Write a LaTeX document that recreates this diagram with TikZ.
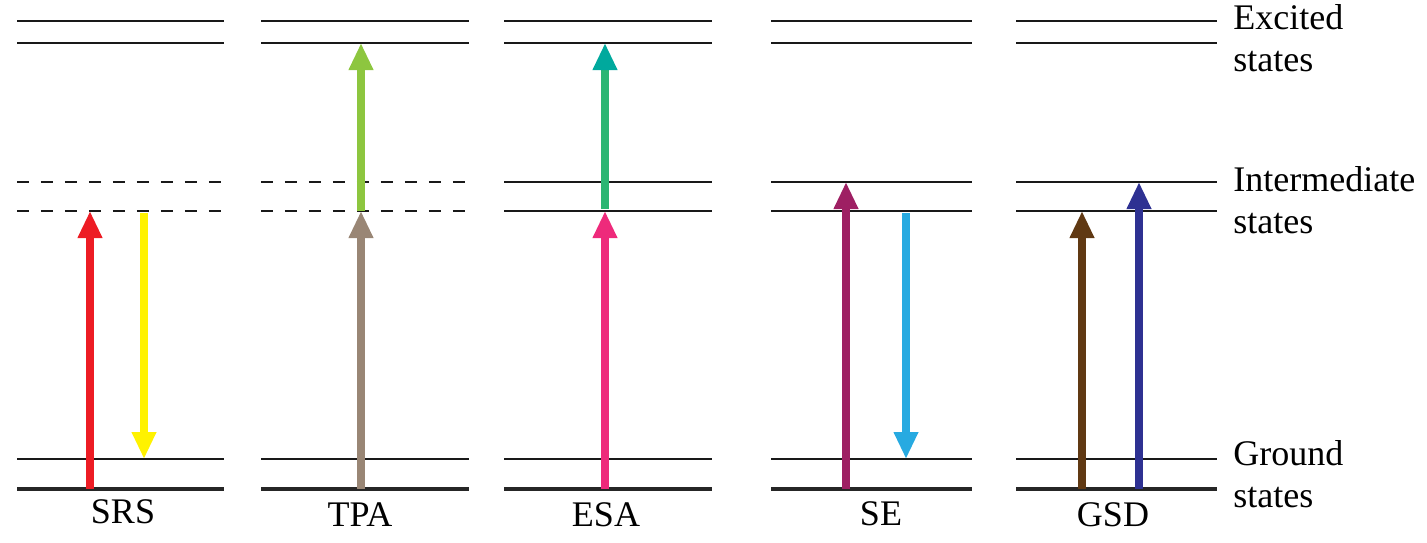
\documentclass[tikz,border=0pt]{standalone}
\usepackage{fontspec}
\setmainfont{Liberation Serif}
\usetikzlibrary{arrows.meta}
\definecolor{srsred}{HTML}{ED1C24}
\definecolor{srsyellow}{HTML}{FFF200}
\definecolor{tpagrey}{HTML}{998675}
\definecolor{tpagreen}{HTML}{8DC63F}
\definecolor{esapink}{HTML}{EE2A7B}
\definecolor{esagreen}{HTML}{2BB673}
\definecolor{esateal}{HTML}{00A99D}
\definecolor{sepurple}{HTML}{9E1F63}
\definecolor{seblue}{HTML}{27AAE1}
\definecolor{gsdbrown}{HTML}{603913}
\definecolor{gsdblue}{HTML}{2E3192}
\tikzset{
  level/.style={line width=0.8pt,black!90},
  groundlevel/.style={line width=2pt,black!85},
  virtual/.style={level,dash pattern=on 0.24cm off 0.24cm},
  transition/.style={line width=4pt,-{Triangle[width=0.46cm,length=0.54cm]}},
  statelabel/.style={anchor=west,inner sep=0,align=left,font=\fontsize{20.5}{23.8}\selectfont},
  procname/.style={anchor=base,inner sep=0,font=\fontsize{20.5}{24}\selectfont},
}

\begin{document}
\begin{tikzpicture}[x=0.02cm,y=-0.02cm]
  \useasboundingbox (0,0) rectangle (1427,542);
  \def\ya{21}   % upper excited level
  \def\yb{43}   % lower excited level
  \def\yc{182}  % upper intermediate level
  \def\yd{211}  % lower intermediate level
  \def\ye{459}  % upper ground level
  \def\yf{489}  % lower ground level

  % LEVELS
  \foreach \xl/\xr/\mid in {17/224/virtual, 261/469/virtual, 504/712/level,
                           771/972/level, 1016/1217/level}{
    \draw[level] (\xl,\ya) -- (\xr,\ya);
    \draw[level] (\xl,\yb) -- (\xr,\yb);
    \draw[\mid] (\xl,\yc) -- (\xr,\yc);
    \draw[\mid] (\xl,\yd) -- (\xr,\yd);
    \draw[level] (\xl,\ye) -- (\xr,\ye);
    \draw[groundlevel] (\xl,\yf) -- (\xr,\yf);
  }

  % POINTS
  \coordinate (SRSa) at (90,\yf);
  \coordinate (SRSb) at (90,\yd);
  \coordinate (SRSc) at (144,213);
  \coordinate (SRSd) at (144,\ye);
  \coordinate (TPAa) at (361,\yf);
  \coordinate (TPAb) at (361,\yd);
  \coordinate (TPAc) at (361,\yb);
  \coordinate (ESAa) at (605,\yf);
  \coordinate (ESAb) at (605,\yd);
  \coordinate (ESAc) at (605,209);
  \coordinate (ESAd) at (605,\yb);
  \coordinate (SEa) at (846,\yf);
  \coordinate (SEb) at (846,\yc);
  \coordinate (SEc) at (906,213);
  \coordinate (SEd) at (906,\ye);
  \coordinate (GSDa) at (1082,\yf);
  \coordinate (GSDb) at (1082,\yd);
  \coordinate (GSDc) at (1139,\yf);
  \coordinate (GSDd) at (1139,\yc);

  % TRANSITIONS
  \draw[transition,srsred] (SRSa) -- (SRSb);
  \draw[transition,srsyellow] (SRSc) -- (SRSd);
  \draw[transition,tpagrey] (TPAa) -- (TPAb);
  \draw[transition,tpagreen] (TPAb) -- (TPAc);
  \draw[transition,esapink] (ESAa) -- (ESAb);
  \draw[line width=4pt,esagreen,-{Triangle[width=0.46cm,length=0.54cm,color=esateal]}] (ESAc) -- (ESAd);
  \draw[transition,sepurple] (SEa) -- (SEb);
  \draw[transition,seblue] (SEc) -- (SEd);
  \draw[transition,gsdbrown] (GSDa) -- (GSDb);
  \draw[transition,gsdblue] (GSDc) -- (GSDd);

  % LABELS
  \node[procname] (srs) at (123,523) {SRS};
  \node[procname] (tpa) at (360,526) {TPA};
  \node[procname] (esa) at (606,526) {ESA};
  \node[procname] (se)  at (881,525) {SE};
  \node[procname] (gsd) at (1113,526) {GSD};
  \node[statelabel] (excited) at (1233,38) {Excited\\states};
  \node[statelabel] (intermediate) at (1233,200) {Intermediate\\states};
  \node[statelabel] (ground) at (1233,474) {Ground\\states};
\end{tikzpicture}
\end{document}
